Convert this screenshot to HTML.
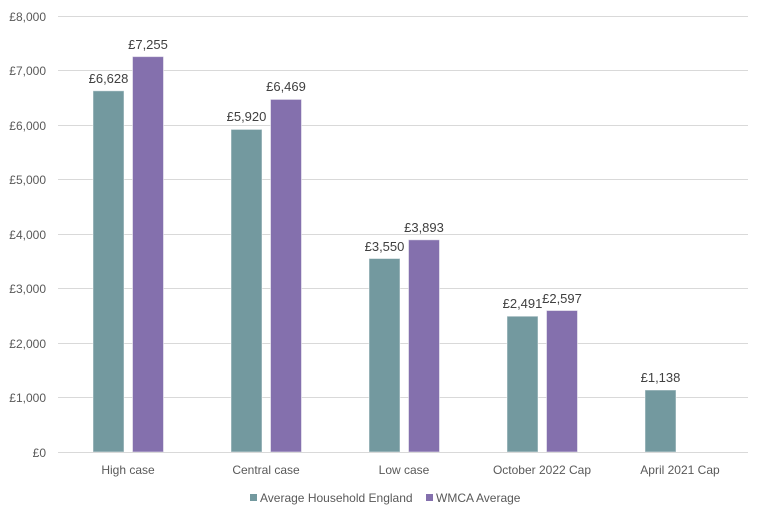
<!DOCTYPE html>
<html><head><meta charset="utf-8"><style>
html,body{margin:0;padding:0;background:#fff;}
svg text{font-family:"Liberation Sans",sans-serif;}
</style></head><body>
<svg width="767" height="520" viewBox="0 0 767 520" xmlns="http://www.w3.org/2000/svg">
<rect width="767" height="520" fill="#fff"/>
<g stroke="#d9d9d9" stroke-width="1">
<line x1="58" x2="748" y1="16.5" y2="16.5"/>
<line x1="58" x2="748" y1="70.5" y2="70.5"/>
<line x1="58" x2="748" y1="125.5" y2="125.5"/>
<line x1="58" x2="748" y1="179.5" y2="179.5"/>
<line x1="58" x2="748" y1="234.5" y2="234.5"/>
<line x1="58" x2="748" y1="288.5" y2="288.5"/>
<line x1="58" x2="748" y1="343.5" y2="343.5"/>
<line x1="58" x2="748" y1="397.5" y2="397.5"/>
</g>
<g font-size="12" fill="#595959" text-anchor="end">
<text x="46" y="21">£8,000</text>
<text x="46" y="75">£7,000</text>
<text x="46" y="130">£6,000</text>
<text x="46" y="184">£5,000</text>
<text x="46" y="239">£4,000</text>
<text x="46" y="293">£3,000</text>
<text x="46" y="348">£2,000</text>
<text x="46" y="402">£1,000</text>
<text x="46" y="457">£0</text>
</g>
<g stroke="#fff" stroke-opacity="0.5" stroke-width="1">
<rect x="93" y="90.8" width="31" height="361.2" fill="#73999f"/>
<rect x="132.5" y="56.6" width="31" height="395.4" fill="#8470ad"/>
<rect x="231" y="129.4" width="31" height="322.6" fill="#73999f"/>
<rect x="270.5" y="99.4" width="31" height="352.6" fill="#8470ad"/>
<rect x="369" y="258.5" width="31" height="193.5" fill="#73999f"/>
<rect x="408.5" y="239.8" width="31" height="212.2" fill="#8470ad"/>
<rect x="507" y="316.2" width="31" height="135.8" fill="#73999f"/>
<rect x="546.5" y="310.5" width="31" height="141.5" fill="#8470ad"/>
<rect x="645" y="390" width="31" height="62" fill="#73999f"/>
</g>
<line x1="58" x2="748" y1="452.5" y2="452.5" stroke="#d9d9d9"/>
<g font-size="13" fill="#404040" text-anchor="middle">
<text x="108.5" y="83">£6,628</text>
<text x="148" y="49">£7,255</text>
<text x="246.5" y="121">£5,920</text>
<text x="286" y="91">£6,469</text>
<text x="384.5" y="251">£3,550</text>
<text x="424" y="232">£3,893</text>
<text x="522.5" y="308">£2,491</text>
<text x="562" y="303">£2,597</text>
<text x="660.5" y="382">£1,138</text>
</g>
<g font-size="12" fill="#595959" text-anchor="middle">
<text x="128" y="474">High case</text>
<text x="266" y="474">Central case</text>
<text x="404" y="474">Low case</text>
<text x="542" y="474">October 2022 Cap</text>
<text x="680" y="474">April 2021 Cap</text>
</g>
<rect x="250" y="494" width="7" height="7" fill="#73999f"/>
<text x="260" y="502" font-size="12" fill="#595959">Average Household England</text>
<rect x="426" y="494" width="7" height="7" fill="#8470ad"/>
<text x="436" y="502" font-size="12" fill="#595959">WMCA Average</text>
</svg>
</body></html>
